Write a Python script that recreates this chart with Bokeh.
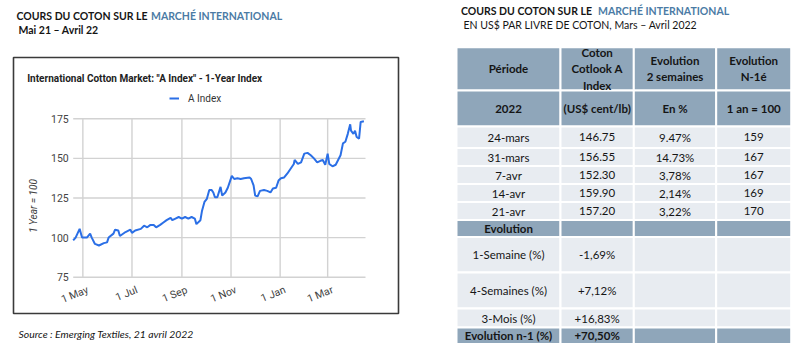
import math
from datetime import datetime
from bokeh.plotting import figure
from bokeh.models import ColumnDataSource, Range1d, Legend, LegendItem
from bokeh.embed import file_html
from bokeh.resources import INLINE
from bokeh.core.properties import value

# ---------------- data ----------------
dates = [
    "2021-04-19", "2021-04-22", "2021-04-27", "2021-04-30", "2021-05-06", "2021-05-10",
    "2021-05-12", "2021-05-16", "2021-05-21", "2021-05-27", "2021-05-31", "2021-06-02",
    "2021-06-08", "2021-06-10", "2021-06-14", "2021-06-16", "2021-06-23", "2021-06-29",
    "2021-07-01", "2021-07-05", "2021-07-12", "2021-07-16", "2021-07-20", "2021-07-24",
    "2021-07-28", "2021-07-31", "2021-08-05", "2021-08-09", "2021-08-13", "2021-08-18",
    "2021-08-20", "2021-08-24", "2021-08-28", "2021-09-01", "2021-09-05", "2021-09-09",
    "2021-09-13", "2021-09-17", "2021-09-19", "2021-09-24", "2021-09-26", "2021-09-29",
    "2021-10-02", "2021-10-05", "2021-10-08", "2021-10-10", "2021-10-12", "2021-10-15",
    "2021-10-19", "2021-10-21", "2021-10-25", "2021-10-28", "2021-10-31", "2021-11-02",
    "2021-11-05", "2021-11-09", "2021-11-13", "2021-11-17", "2021-11-24", "2021-11-26",
    "2021-11-29", "2021-12-01", "2021-12-04", "2021-12-07", "2021-12-12", "2021-12-16",
    "2021-12-20", "2021-12-23", "2021-12-27", "2021-12-30", "2022-01-02", "2022-01-06",
    "2022-01-10", "2022-01-14", "2022-01-18", "2022-01-19", "2022-01-23", "2022-01-27",
    "2022-01-31", "2022-02-04", "2022-02-08", "2022-02-12", "2022-02-16", "2022-02-20",
    "2022-02-23", "2022-02-26", "2022-03-01", "2022-03-03", "2022-03-07", "2022-03-11",
    "2022-03-14", "2022-03-17", "2022-03-20", "2022-03-23", "2022-03-26", "2022-03-29",
    "2022-03-30", "2022-04-02", "2022-04-04", "2022-04-06", "2022-04-09", "2022-04-11",
    "2022-04-15",
]
a_index = [
    98.2, 100.0, 105.5, 100.0, 100.0, 102.5,
    100.0, 96.0, 95.0, 96.5, 97.0, 100.0,
    102.5, 105.0, 104.5, 101.0, 103.5, 105.0,
    103.0, 104.5, 105.5, 107.5, 106.5, 108.0,
    108.0, 106.5, 108.0, 109.5, 111.0, 112.5,
    111.0, 112.0, 113.0, 112.0, 113.0, 112.0,
    113.0, 112.0, 108.5, 111.0, 117.0, 122.5,
    124.5, 130.0, 130.0, 128.5, 125.5, 125.5,
    132.0, 126.5, 128.5, 131.5, 136.0, 139.0,
    137.0, 137.5, 137.0, 137.5, 138.0, 137.0,
    133.0, 126.5, 126.0, 129.5, 130.0, 129.5,
    128.5, 131.0, 131.5, 136.0, 137.5, 138.0,
    140.5, 143.5, 146.5, 149.0, 146.5, 147.5,
    153.0, 153.5, 152.0, 150.0, 147.5, 148.5,
    149.0, 146.0, 153.0, 146.5, 145.0, 146.0,
    149.0, 152.0, 159.5, 160.5, 165.5, 171.5,
    167.5, 165.5, 167.5, 163.5, 162.5, 173.0,
    173.5,
]
x_period = ["2021-04-19", "2022-04-17"]          # visible date span of the chart
x_tick_dates = ["2021-05-01", "2021-07-01", "2021-09-01", "2021-11-01", "2022-01-01", "2022-03-01"]
x_tick_labels = ["1 May", "1 Jul", "1 Sep", "1 Nov", "1 Jan", "1 Mar"]
y_ticks = [75, 100, 125, 150, 175]
y_tick_labels = ["75", "100", "125", "150", "175"]
series_name = "A Index"
chart_title = 'International Cotton Market: "A Index" - 1-Year Index'
y_title = "1 Year = 100"

table_header = ["Période", "Coton\nCotlook A\nIndex", "Evolution\n2 semaines", "Evolution\nN-1é"]
table_units = ["2022", "(US$ cent/lb)", "En %", "1 an = 100"]
periods = ["24-mars", "31-mars", "7-avr", "14-avr", "21-avr"]
cotlook = [146.75, 156.55, 152.30, 159.90, 157.20]
evol_2w = ["9.47%", "14.73%", "3,78%", "2,14%", "3,22%"]
index_n1 = [159, 167, 167, 169, 170]
evol_section = "Evolution"
evol_labels = ["1-Semaine (%)", "4-Semaines (%)", "3-Mois (%)"]
evol_values = ["-1,69%", "+7,12%", "+16,83%"]
evol_n1_label = "Evolution n-1 (%)"
evol_n1_value = "+70,50%"

# ---------------- styles / layout (screen pixels) ----------------
FONT = "Lato"
CFONT = "Roboto"
BLUE_T = "#4b7ba5"
LINE = "#2b6fe6"
HEAD = "#8fa6ba"
LIGHT = "#e8ecf1"
TXT = "#151515"
AX = "#444444"
GRID = "#d2d2d2"

PAGE_L, PAGE_R, PAGE_T, PAGE_B = 0, 792, 0, 347
PLOT_L, PLOT_R, PLOT_T, PLOT_B = 72.7, 365.0, 118.3, 276.7

def to_dt(s):
    return datetime.strptime(s, "%Y-%m-%d")

epoch = datetime(1970, 1, 1)
def ms(s):
    return (to_dt(s) - epoch).total_seconds() * 1000.0

# chart scales mapped into their sub-area of the page
x0, x1 = ms(x_period[0]), ms(x_period[1])
ms_px = (x1 - x0) / (PLOT_R - PLOT_L)
date_range = Range1d(x0 - (PLOT_L - PAGE_L) * ms_px, x1 + (PAGE_R - PLOT_R) * ms_px)
y0, y1 = y_ticks[0], y_ticks[-1]
u_px = (y1 - y0) / (PLOT_B - PLOT_T)
idx_range = Range1d(y0 - (PAGE_B - PLOT_B) * u_px, y1 + (PLOT_T - PAGE_T) * u_px)

p = figure(width=PAGE_R - PAGE_L, height=PAGE_B - PAGE_T,
           x_range=Range1d(PAGE_L, PAGE_R), y_range=Range1d(PAGE_B, PAGE_T),
           x_axis_location=None, y_axis_location=None, min_border=0,
           output_backend="svg", toolbar_location=None)
p.extra_x_ranges = {"date": date_range}
p.extra_y_ranges = {"idx": idx_range}
p.grid.visible = False
p.outline_line_color = None
p.background_fill_color = "white"
p.border_fill_color = "white"

def page_text(x, y, t, size="10.5px", style="normal", color=TXT, align="left", font=FONT, angle=0):
    p.text(x=[x], y=[y], text=[t], text_align=align, text_baseline="middle", angle=angle,
           text_font=value(font), text_font_style=style, text_font_size=size, text_color=color)

# ---------------- left: titles ----------------
page_text(147, 15, "COURS DU COTON SUR LE", style="bold", align="right")
page_text(150.5, 15, "MARCHÉ INTERNATIONAL", style="bold", color=BLUE_T)
page_text(18, 29.5, "Mai 21 – Avril 22", style="bold")
page_text(18, 333, "Source : Emerging Textiles, 21 avril 2022", size="10.4px", style="italic")

# chart box
p.quad(left=[13], right=[398], top=[57], bottom=[313], fill_color=None, line_color="#3a3a3a", line_width=1.6)

# ---------------- left: chart ----------------
D = dict(x_range_name="date", y_range_name="idx")
tick_x = [to_dt(d) for d in x_tick_dates]
start_dt, end_dt = to_dt(x_period[0]), to_dt(x_period[1])

p.segment(x0=[start_dt] * len(y_ticks), x1=[end_dt] * len(y_ticks), y0=y_ticks, y1=y_ticks,
          line_color=GRID, line_width=1.4, **D)
p.segment(x0=tick_x, x1=tick_x, y0=[y0] * len(tick_x), y1=[y1] * len(tick_x),
          line_color=GRID, line_width=1.4, **D)

src = ColumnDataSource(data=dict(date=[to_dt(d) for d in dates], a_index=a_index))
r = p.line(x="date", y="a_index", source=src, line_color=LINE, line_width=2, **D)

# tick labels
p.text(x=tick_x, y=[y0] * len(tick_x), text=x_tick_labels, angle=math.radians(22),
       text_align="right", text_baseline="middle", x_offset=5, y_offset=12,
       text_font=value(CFONT), text_font_size="10.5px", text_color=AX, **D)
p.text(x=[start_dt] * len(y_ticks), y=y_ticks, text=y_tick_labels, text_align="right",
       text_baseline="middle", x_offset=-4.5, text_font=value(CFONT), text_font_size="10.5px",
       text_color=AX, **D)
page_text(33, 205.5, y_title, size="10px", style="italic", color=AX, align="center",
          font=CFONT, angle=math.pi / 2)
page_text(26.7, 77.7, chart_title, size="10px", style="bold", color="#222222", font=CFONT)

legend = Legend(items=[LegendItem(label=series_name, renderers=[r])],
                location=(169 - PAGE_L, PAGE_B - 104.3),
                orientation="horizontal", padding=0, margin=0, border_line_alpha=0,
                background_fill_alpha=0, glyph_width=10, glyph_height=12, label_height=12,
                label_standoff=9, label_text_font=CFONT, label_text_font_size="10px",
                label_text_color="#333333")
p.add_layout(legend)

# ---------------- right: table ----------------
page_text(594, 10.5, "COURS DU COTON  SUR LE", style="bold", align="right")
page_text(597.5, 10.5, "MARCHÉ INTERNATIONAL", style="bold", color=BLUE_T)
page_text(463, 24.5, "EN US$ PAR LIVRE DE COTON, Mars – Avril 2022")

col_edges = [456, 560, 633.3, 715.7, 790.7]
row_edges = [46.7, 90, 126, 147.5, 165.5, 183.5, 201.5, 219.5, 236.5, 272, 308, 327, 343.5]

rows_text = [table_header, table_units]
rows_text += [[a, f"{c:.2f}", e, str(i)] for a, c, e, i in zip(periods, cotlook, evol_2w, index_n1)]
rows_text += [[evol_section, "", "", ""]]
rows_text += [[l, v, "", ""] for l, v in zip(evol_labels, evol_values)]
rows_text += [[evol_n1_label, evol_n1_value, "", ""]]
head_rows = {0, 1, 2 + len(periods), len(rows_text) - 1}

cells = dict(left=[], right=[], top=[], bottom=[], color=[])
txt = {False: dict(x=[], y=[], text=[]), True: dict(x=[], y=[], text=[])}
for ri, rt in enumerate(rows_text):
    bold = ri in head_rows
    for ci, t in enumerate(rt):
        cells["left"].append(col_edges[ci])
        cells["right"].append(col_edges[ci + 1])
        cells["top"].append(row_edges[ri])
        cells["bottom"].append(row_edges[ri + 1])
        cells["color"].append(HEAD if bold else LIGHT)
        if t:
            txt[bold]["x"].append((col_edges[ci] + col_edges[ci + 1]) / 2)
            txt[bold]["y"].append((row_edges[ri] + row_edges[ri + 1]) / 2)
            txt[bold]["text"].append(t)

p.quad(left="left", right="right", top="top", bottom="bottom", fill_color="color",
       line_color="white", line_width=2, source=ColumnDataSource(cells))
for bold, d in txt.items():
    p.text(x="x", y="y", text="text", source=ColumnDataSource(d), text_align="center",
           text_baseline="middle", text_font=value(FONT), text_font_size="11.5px",
           text_font_style="bold" if bold else "normal", text_color=TXT, text_line_height=1.25)

open("out.html", "w").write(file_html(p, INLINE))
